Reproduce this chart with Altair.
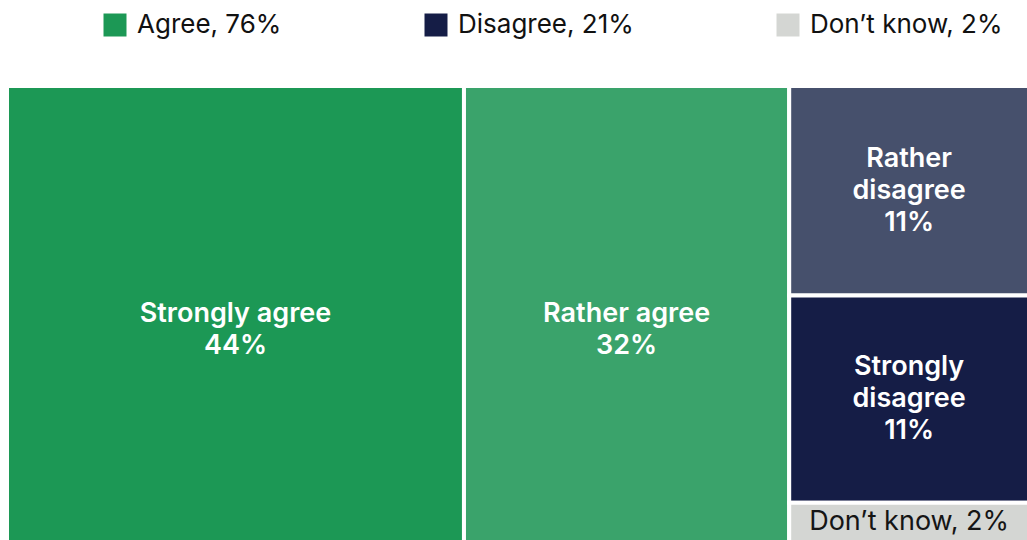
import altair as alt
import pandas as pd

# Survey answers: category, answer group, share of respondents (%)
categories = ["Strongly agree", "Rather agree", "Rather disagree", "Strongly disagree", "Don’t know"]
groups = ["Agree", "Agree", "Disagree", "Disagree", "Don’t know"]
values = [44.4, 31.6, 10.7, 10.6, 2.0]
# Treemap column each category is placed in (slice-and-dice layout)
columns = [0, 1, 2, 2, 2]

cell_colors = ["#1c9855", "#3aa36b", "#46506c", "#151d46", "#d4d6d3"]
group_order = ["Agree", "Disagree", "Don’t know"]
group_colors = ["#1c9855", "#151d46", "#d4d6d3"]

FONT = "Inter"
LINE_H = 32


def pct(v):
    return f"{int(v + 0.5)}%"


# --- slice-and-dice treemap layout computed from the values ---
total = sum(values)
col_totals = {}
for c, v in zip(columns, values):
    col_totals[c] = col_totals.get(c, 0) + v

col_start = {}
acc = 0.0
for c in sorted(col_totals):
    col_start[c] = acc
    acc += col_totals[c]

group_totals = {}
for g, v in zip(groups, values):
    group_totals[g] = group_totals.get(g, 0) + v
group_labels = {g: f"{g}, {pct(group_totals[g])}" for g in group_order}

rows = []
col_fill = {c: 0.0 for c in col_totals}
for cat, grp, v, c in zip(categories, groups, values, columns):
    x0 = col_start[c]
    x1 = x0 + col_totals[c]
    y0 = col_fill[c] / col_totals[c]
    col_fill[c] += v
    y1 = col_fill[c] / col_totals[c]
    narrow = col_totals[c] / total < 0.3
    if grp == "Don’t know":
        label = f"{cat}, {pct(v)}"
    elif narrow:
        label = "\n".join(cat.split(" ") + [pct(v)])
    else:
        label = f"{cat}\n{pct(v)}"
    rows.append(dict(category=cat, group=grp, group_label=group_labels[grp],
                     value=v, x0=x0, x1=x1, y0=y0, y1=y1,
                     xm=(x0 + x1) / 2, ym=(y0 + y1) / 2, label=label,
                     lines=label.count("\n") + 1))

df = pd.DataFrame(rows)

xs = alt.Scale(domain=[0, total], range=[0, 1022], nice=False, zero=False)
ys = alt.Scale(domain=[0, 1], range=[0, 456], nice=False, zero=False)

base = alt.Chart(df)

cells = base.mark_rect(stroke="white", strokeWidth=4).encode(
    x=alt.X("x0:Q", scale=xs, axis=None),
    x2="x1:Q",
    y=alt.Y("y0:Q", scale=ys, axis=None),
    y2="y1:Q",
    color=alt.Color("category:N",
                    scale=alt.Scale(domain=categories, range=cell_colors),
                    legend=None),
)

legend_layer = base.mark_square(opacity=0).encode(
    x=alt.X("xm:Q", scale=xs, axis=None),
    y=alt.Y("ym:Q", scale=ys, axis=None),
    color=alt.Color(
        "group_label:N",
        scale=alt.Scale(domain=[group_labels[g] for g in group_order], range=group_colors),
        legend=alt.Legend(
            title=None, orient="none", legendX=95, legendY=-74,
            direction="horizontal", columns=3, columnPadding=141,
            symbolType="square", symbolSize=529, symbolStrokeWidth=0,
            symbolOpacity=1, labelFont=FONT, labelFontSize=26,
            labelColor="#111111", labelOffset=9, labelLimit=400,
        ),
    ),
)


def white_text(n_lines):
    # two-line labels start on the cell centre; three-line ones centre their middle line
    shift = -LINE_H * ((n_lines - 1) // 2)
    return base.transform_filter(
        (alt.datum.group != "Don’t know") & (alt.datum.lines == n_lines)
    ).mark_text(
        font=FONT, fontSize=27, fontWeight=600, color="white",
        lineBreak="\n", lineHeight=LINE_H, align="center", baseline="middle",
        dy=shift,
    ).encode(
        x=alt.X("xm:Q", scale=xs, axis=None),
        y=alt.Y("ym:Q", scale=ys, axis=None),
        text="label:N",
    )


dk_label = base.transform_filter(alt.datum.group == "Don’t know").mark_text(
    font=FONT, fontSize=27, fontWeight=400, color="#151515",
    align="center", baseline="middle",
).encode(
    x=alt.X("xm:Q", scale=xs, axis=None),
    y=alt.Y("ym:Q", scale=ys, axis=None),
    text="label:N",
)

chart = (
    alt.layer(cells, legend_layer, white_text(2), white_text(3), dk_label)
    .resolve_scale(color="independent")
    .properties(
        width=1020, height=454,
        autosize=alt.AutoSizeParams(type="none"),
        padding={"left": 7, "top": 86, "right": 0, "bottom": 0},
        background="white",
    )
    .configure_view(stroke=None)
)

chart.save("out.html", embed_options={"renderer": "svg", "actions": False})
